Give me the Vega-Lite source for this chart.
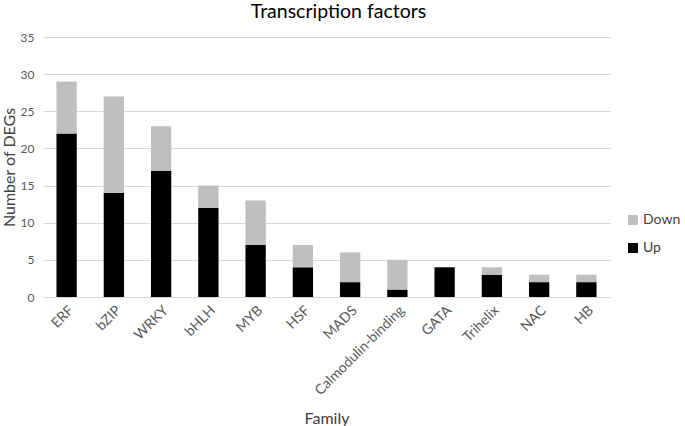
{
  "$schema": "https://vega.github.io/schema/vega-lite/v6.json",
  "autosize": "none",
  "width": 567,
  "height": 260,
  "padding": {"left": 43, "top": 37, "right": 75, "bottom": 129},
  "background": "white",
  "title": {"text": "Transcription factors", "font": "Lato", "fontSize": 19.5, "fontWeight": "normal", "color": "#000000", "anchor": "middle", "dx": 12, "offset": 9},
  "data": {"values": [
    {"Family": "ERF", "Direction": "Up", "Count": 22},
    {"Family": "ERF", "Direction": "Down", "Count": 7},
    {"Family": "bZIP", "Direction": "Up", "Count": 14},
    {"Family": "bZIP", "Direction": "Down", "Count": 13},
    {"Family": "WRKY", "Direction": "Up", "Count": 17},
    {"Family": "WRKY", "Direction": "Down", "Count": 6},
    {"Family": "bHLH", "Direction": "Up", "Count": 12},
    {"Family": "bHLH", "Direction": "Down", "Count": 3},
    {"Family": "MYB", "Direction": "Up", "Count": 7},
    {"Family": "MYB", "Direction": "Down", "Count": 6},
    {"Family": "HSF", "Direction": "Up", "Count": 4},
    {"Family": "HSF", "Direction": "Down", "Count": 3},
    {"Family": "MADS", "Direction": "Up", "Count": 2},
    {"Family": "MADS", "Direction": "Down", "Count": 4},
    {"Family": "Calmodulin-binding", "Direction": "Up", "Count": 1},
    {"Family": "Calmodulin-binding", "Direction": "Down", "Count": 4},
    {"Family": "GATA", "Direction": "Up", "Count": 4},
    {"Family": "GATA", "Direction": "Down", "Count": 0},
    {"Family": "Trihelix", "Direction": "Up", "Count": 3},
    {"Family": "Trihelix", "Direction": "Down", "Count": 1},
    {"Family": "NAC", "Direction": "Up", "Count": 2},
    {"Family": "NAC", "Direction": "Down", "Count": 1},
    {"Family": "HB", "Direction": "Up", "Count": 2},
    {"Family": "HB", "Direction": "Down", "Count": 1}
  ]},
  "mark": {"type": "bar"},
  "encoding": {
    "x": {
      "field": "Family", "type": "nominal", "sort": null,
      "scale": {"paddingInner": 0.57, "paddingOuter": 0.285},
      "axis": {"title": "Family", "titleFont": "Lato", "titleFontSize": 16, "titleFontWeight": "normal", "titleColor": "#404040", "titlePadding": 13,
               "labelAngle": -45, "labelFont": "Lato", "labelFontSize": 14, "labelColor": "#595959", "labelPadding": 6,
               "ticks": false, "domainColor": "#D9D9D9", "grid": false}
    },
    "y": {
      "field": "Count", "type": "quantitative", "stack": "zero",
      "scale": {"domain": [0, 35]},
      "axis": {"title": "Number of DEGs", "titleFont": "Lato", "titleFontSize": 16, "titleFontWeight": "normal", "titleColor": "#404040", "titlePadding": 3,
               "values": [0, 5, 10, 15, 20, 25, 30, 35], "labelFont": "Lato", "labelFontSize": 12, "labelColor": "#595959", "labelPadding": 9,
               "ticks": false, "domain": false, "grid": true, "gridColor": "#D9D9D9", "gridWidth": 1}
    },
    "color": {
      "field": "Direction", "type": "nominal",
      "scale": {"domain": ["Down", "Up"], "range": ["#BFBFBF", "#000000"]},
      "legend": {"title": null, "orient": "none", "legendX": 583, "legendY": 176, "symbolType": "square", "symbolSize": 100, "symbolStrokeWidth": 0,
                 "labelFont": "Lato", "labelFontSize": 14, "labelColor": "#404040", "rowPadding": 14, "labelOffset": 3}
    },
    "order": {"field": "Direction", "sort": "descending"}
  },
  "config": {"view": {"stroke": null}}
}
